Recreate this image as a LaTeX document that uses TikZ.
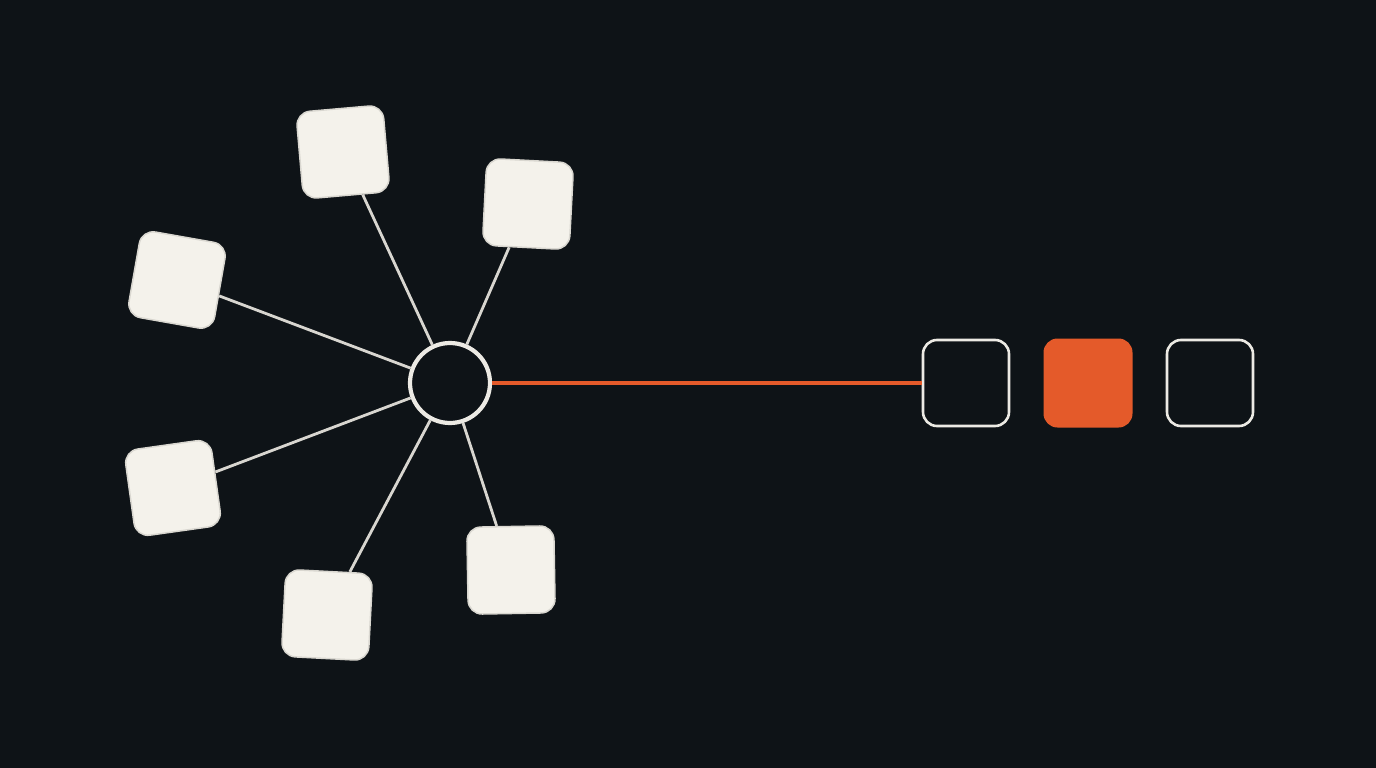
\documentclass[tikz,border=0pt]{standalone}
\begin{document}
\begin{tikzpicture}[x=1pt,y=-1pt,
  leaf/.style={draw=leafedge,line width=1.5pt,fill=leaffill,rounded corners=14pt,minimum size=87pt,inner sep=0pt},
  hub/.style={circle,draw=linecol,line width=4.2pt,fill=bgcol,minimum size=80pt,inner sep=0pt},
  spoke/.style={draw=spokecol,line width=2.8pt},
  outbox/.style={draw=linecol,line width=2.6pt,rounded corners=14pt,minimum size=86pt,inner sep=0pt},
  hotbox/.style={fill=hot,rounded corners=14pt,minimum size=89pt,inner sep=0pt},
  hotline/.style={draw=hot,line width=3.6pt}]
\definecolor{bgcol}{HTML}{0E1317}
\definecolor{leaffill}{HTML}{F4F2EB}
\definecolor{leafedge}{HTML}{D9D7D0}
\definecolor{linecol}{HTML}{ECEAE4}
\definecolor{spokecol}{HTML}{D8D6D0}
\definecolor{hot}{HTML}{E45A2A}
\fill[bgcol] (0,0) rectangle (1376,768);
\useasboundingbox (0,0) rectangle (1376,768);
\node[hub] (c) at (450,383) {};
\node[leaf,rotate=5] (s1) at (343,152) {};
\node[leaf,rotate=-3] (s2) at (528,204) {};
\node[leaf,rotate=-10] (s3) at (177,280) {};
\node[leaf,rotate=8] (s4) at (173,488) {};
\node[leaf,rotate=-3] (s5) at (327,615) {};
\node[leaf,rotate=1] (s6) at (511,570) {};
\node[outbox] (b1) at (966,383) {};
\node[hotbox] (b2) at (1088,383) {};
\node[outbox] (b3) at (1210,383) {};
\foreach \s in {s1,s2,s3,s4,s5,s6} {\draw[spoke] (c) -- (\s);}
\draw[hotline] (c.east) -- (b1.west);
\end{tikzpicture}
\end{document}
